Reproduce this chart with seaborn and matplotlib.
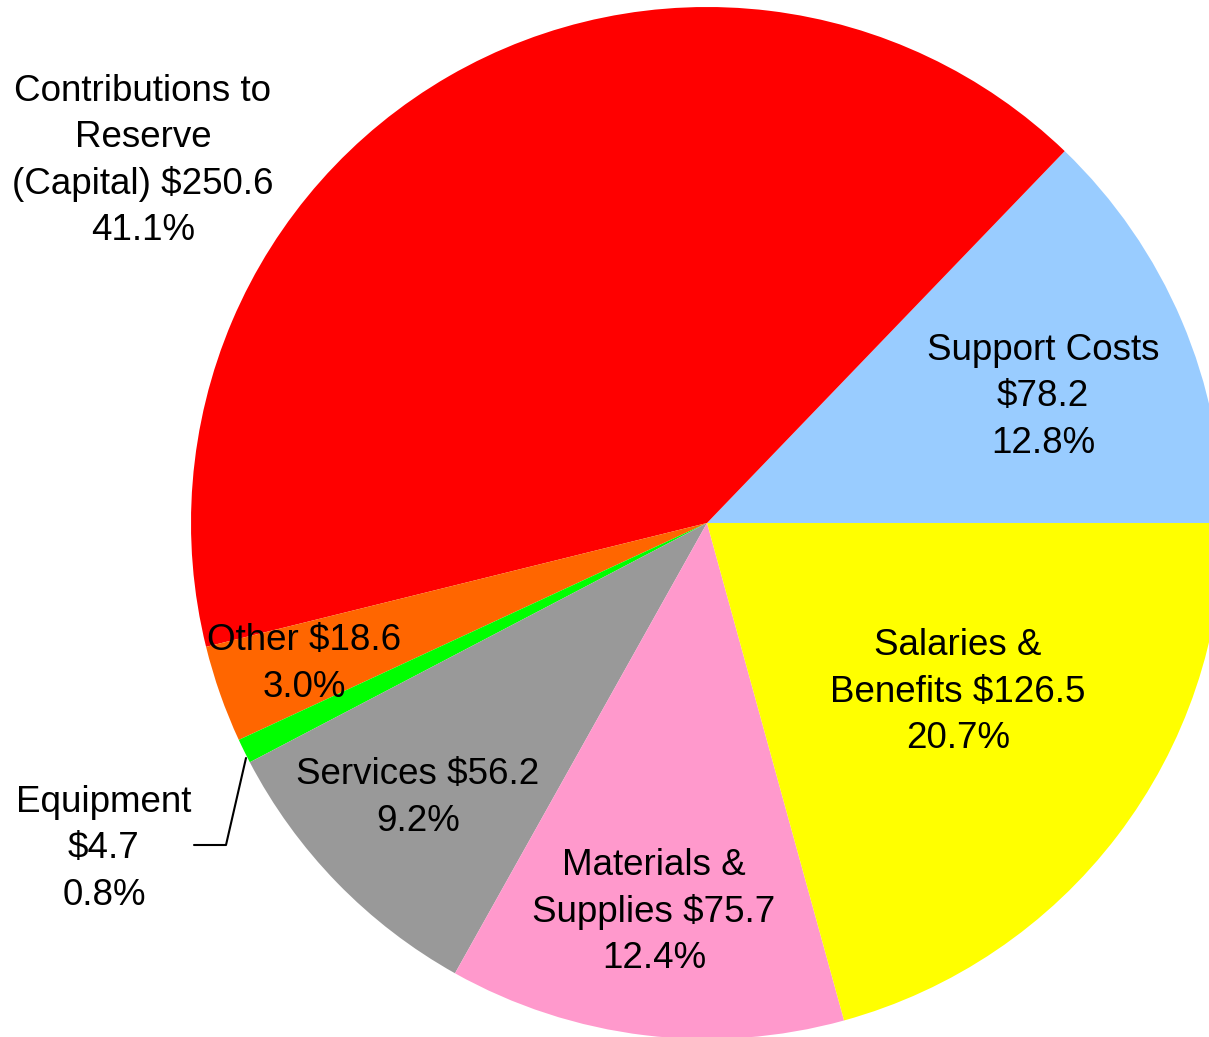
import matplotlib
matplotlib.use("Agg")
import matplotlib.pyplot as plt
import seaborn as sns

sns.set_theme(style="white")
plt.rcParams["font.family"] = ["Liberation Sans", "DejaVu Sans"]

categories = ["Support Costs", "Contributions to Reserve (Capital)", "Other",
              "Equipment", "Services", "Materials & Supplies", "Salaries & Benefits"]
amounts = [78.2, 250.6, 18.6, 4.7, 56.2, 75.7, 126.5]
colors = ["#99CCFF", "#FF0000", "#FF6600", "#00FF00", "#999999", "#FF99CC", "#FFFF00"]

# label text for each slice (name lines, amount, share)
label_texts = [
    "Support Costs\n$78.2\n12.8%",
    "Contributions to\nReserve\n(Capital) $250.6\n41.1%",
    "Other $18.6\n3.0%",
    "Equipment\n$4.7\n0.8%",
    "Services $56.2\n9.2%",
    "Materials &\nSupplies $75.7\n12.4%",
    "Salaries &\nBenefits $126.5\n20.7%",
]
# label anchor points in pixel space (x from left, y from top)
label_pos = [(1043, 397), (143, 161), (304, 664), (104, 849),
             (418, 798), (654, 912), (958, 692)]

W, H = 1209, 1037
fig = plt.figure(figsize=(W / 100, H / 100), dpi=100)
ax = fig.add_axes([0, 0, 1, 1])

cx, cy, r = 707, H - 523, 516
ax.pie(amounts, colors=colors, startangle=0, counterclock=True,
       center=(cx, cy), radius=r, frame=True,
       wedgeprops=dict(linewidth=0))
ax.set_xlim(0, W)
ax.set_ylim(0, H)
ax.set_aspect("equal")
ax.axis("off")

for txt, (px, py) in zip(label_texts, label_pos):
    ax.text(px, H - py, txt, ha="center", va="center", fontsize=26.5,
            color="black", linespacing=1.41)

# leader line for the small Equipment slice
ax.plot([194, 226, 246], [H - 845, H - 845, H - 758], color="black", lw=1.5)

fig.savefig("out.png", dpi=100)
